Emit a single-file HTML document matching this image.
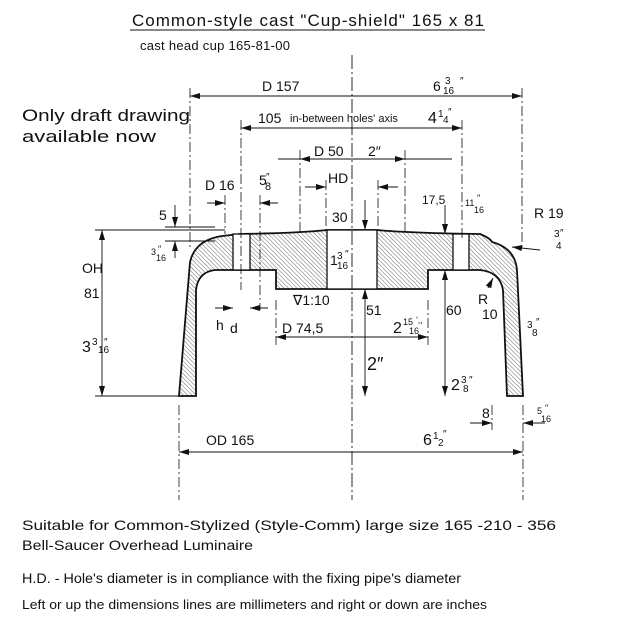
<!DOCTYPE html>
<html><head><meta charset="utf-8"><style>
html,body{margin:0;padding:0;background:#fff}
svg{display:block}
text{font-family:"Liberation Sans",sans-serif;fill:#111}
</style></head><body>
<svg width="630" height="631" viewBox="0 0 630 631" xmlns="http://www.w3.org/2000/svg">
<defs>
<pattern id="h" width="3" height="3" patternUnits="userSpaceOnUse" patternTransform="rotate(-45)">
<line x1="0" y1="0" x2="0" y2="3" stroke="#444" stroke-width="0.8"/>
</pattern>
<marker id="a" viewBox="0 0 10 6" refX="10" refY="3" markerWidth="10" markerHeight="6" orient="auto-start-reverse" markerUnits="userSpaceOnUse"><path d="M0,0 L10,3 L0,6 z" fill="#111"/></marker>
</defs>
<g stroke="#111" fill="none">
<path d="M179,396 L190,262 Q195,240 222,236 L240,234 Q300,233 327,230 L377,230 Q410,233 480,234 Q490,238 492,242 Q515,248 517,270 L523,396 L507,396 L503,290 Q500,272 480,270 L428,270 L428,289 L276,289 L276,270 L215,270 Q198,272 196,290 L196,396 Z" fill="url(#h)" stroke-width="1.8"/>
<rect x="327" y="230" width="50" height="59" fill="#fff" stroke-width="1.3"/>
<rect x="233" y="234" width="17" height="36" fill="#fff" stroke-width="1.3"/>
<rect x="453" y="234" width="16" height="36" fill="#fff" stroke-width="1.3"/>
<line x1="352" y1="55" x2="352" y2="500" stroke-dasharray="14,3,2,3" stroke-width="0.9"/>
<g stroke-width="0.8" stroke-dasharray="10,3,2,3">
<line x1="190" y1="88" x2="190" y2="250"/><line x1="522" y1="88" x2="522" y2="250"/>
<line x1="241" y1="120" x2="241" y2="290"/><line x1="462" y1="120" x2="462" y2="240"/>
<line x1="300" y1="150" x2="300" y2="232"/><line x1="405" y1="150" x2="405" y2="232"/>
<line x1="326" y1="180" x2="326" y2="230"/><line x1="378" y1="180" x2="378" y2="230"/>
<line x1="225" y1="195" x2="225" y2="234"/><line x1="260" y1="195" x2="260" y2="310"/>
<line x1="179" y1="405" x2="179" y2="500"/><line x1="523" y1="405" x2="523" y2="500"/>
<line x1="276" y1="300" x2="276" y2="345"/><line x1="428" y1="300" x2="428" y2="345"/>
<line x1="492" y1="405" x2="492" y2="430"/>
</g>
<g stroke-width="0.9">
<line x1="190" y1="96" x2="522" y2="96" marker-start="url(#a)" marker-end="url(#a)"/>
<line x1="241" y1="128" x2="462" y2="128" marker-start="url(#a)" marker-end="url(#a)"/>
<line x1="278" y1="159" x2="300" y2="159"/><line x1="405" y1="159" x2="452" y2="159"/>
<line x1="300" y1="159" x2="405" y2="159" marker-start="url(#a)" marker-end="url(#a)"/>
<line x1="305" y1="187" x2="326" y2="187" marker-end="url(#a)"/><line x1="398" y1="187" x2="378" y2="187" marker-end="url(#a)"/>
<line x1="207" y1="203" x2="225" y2="203" marker-end="url(#a)"/><line x1="278" y1="203" x2="260" y2="203" marker-end="url(#a)"/>
<line x1="276" y1="337" x2="428" y2="337" marker-start="url(#a)" marker-end="url(#a)"/>
<line x1="215" y1="308" x2="233" y2="308" marker-end="url(#a)"/><line x1="268" y1="308" x2="250" y2="308" marker-end="url(#a)"/>
<line x1="102" y1="230" x2="102" y2="396" marker-start="url(#a)" marker-end="url(#a)"/>
<line x1="95" y1="230" x2="225" y2="230"/>
<line x1="95" y1="396" x2="179" y2="396"/>
<line x1="365" y1="200" x2="365" y2="230" marker-end="url(#a)"/>
<line x1="365" y1="289" x2="365" y2="396" marker-start="url(#a)" marker-end="url(#a)"/>
<line x1="445" y1="270" x2="445" y2="396" marker-start="url(#a)" marker-end="url(#a)"/>
<line x1="445" y1="205" x2="445" y2="234" marker-end="url(#a)"/>
<line x1="175" y1="205" x2="175" y2="227" marker-end="url(#a)"/>
<line x1="175" y1="258" x2="175" y2="241" marker-end="url(#a)"/>
<line x1="165" y1="227" x2="215" y2="227"/><line x1="165" y1="241" x2="215" y2="241"/>
<line x1="179" y1="452" x2="523" y2="452" marker-start="url(#a)" marker-end="url(#a)"/>
<line x1="470" y1="423" x2="492" y2="423" marker-end="url(#a)"/><line x1="545" y1="423" x2="523" y2="423" marker-end="url(#a)"/>
<line x1="540" y1="250" x2="512" y2="247" marker-end="url(#a)"/>
<line x1="488" y1="288" x2="493" y2="278" marker-end="url(#a)"/>
</g>
<line x1="130" y1="30" x2="485" y2="30" stroke-width="1"/>
</g>
<text x="132" y="26" font-size="17" textLength="352" lengthAdjust="spacing">Common-style  cast  "Cup-shield"  165 x 81</text>
<text x="140" y="50" font-size="13" textLength="150" lengthAdjust="spacing">cast head cup  165-81-00</text>
<text x="22" y="121" font-size="17" textLength="168" lengthAdjust="spacingAndGlyphs">Only draft drawing</text>
<text x="22" y="142" font-size="17" textLength="134" lengthAdjust="spacingAndGlyphs">available  now</text>
<g font-size="14">
<text x="262" y="91">D    157</text>
<text x="433" y="91">6</text><text x="445" y="84" font-size="10">3</text><text x="443" y="94" font-size="10">16</text><text x="460" y="84" font-size="10">″</text>
<text x="258" y="123">105</text><text x="290" y="122" font-size="11">in-between  holes' axis</text>
<text x="428" y="123" font-size="16">4</text><text x="438" y="117" font-size="10">1</text><text x="443" y="123" font-size="10">4</text><text x="448" y="115" font-size="10">″</text>
<text x="314" y="156">D 50</text><text x="368" y="156">2″</text>
<text x="328" y="183">HD</text>
<text x="205" y="190">D 16</text>
<text x="259" y="185">5</text><text x="265" y="190" font-size="11">8</text><text x="266" y="180" font-size="10">″</text>
<text x="332" y="222">30</text>
<text x="422" y="204" font-size="12">17,5</text>
<text x="465" y="206" font-size="9">11</text><text x="477" y="201" font-size="9">″</text><text x="474" y="213" font-size="9">16</text>
<text x="534" y="218">R 19</text>
<text x="554" y="237" font-size="10">3</text><text x="556" y="249" font-size="10">4</text><text x="560" y="236" font-size="10">″</text>
<text x="159" y="220">5</text>
<text x="151" y="255" font-size="9">3</text><text x="156" y="261" font-size="9">16</text><text x="158" y="252" font-size="9">″</text>
<text x="82" y="273">OH</text>
<text x="84" y="298">81</text>
<text x="82" y="352" font-size="16">3</text><text x="92" y="345" font-size="10">3</text><text x="98" y="353" font-size="10">16</text><text x="104" y="345" font-size="10">″</text>
<text x="330" y="265">1</text><text x="337" y="259" font-size="10">3</text><text x="337" y="269" font-size="10">16</text><text x="345" y="257" font-size="10">″</text>
<text x="293" y="305">∇1:10</text>
<text x="366" y="315">51</text>
<text x="446" y="315">60</text>
<text x="478" y="304">R</text><text x="482" y="319">10</text>
<text x="527" y="328" font-size="10">3</text><text x="532" y="336" font-size="10">8</text><text x="536" y="325" font-size="10">″</text>
<text x="216" y="330">h</text><text x="230" y="333">d</text>
<text x="282" y="333">D 74,5</text>
<text x="393" y="333" font-size="16">2</text><text x="403" y="325" font-size="9">15</text><text x="409" y="334" font-size="9">16</text><text x="416" y="323" font-size="9">‘‚,</text>
<text x="367" y="370" font-size="18">2″</text>
<text x="451" y="390" font-size="16">2</text><text x="461" y="383" font-size="10">3</text><text x="463" y="392" font-size="10">8</text><text x="469" y="383" font-size="10">″</text>
<text x="482" y="418">8</text>
<text x="537" y="414" font-size="9">5</text><text x="541" y="422" font-size="9">16</text><text x="545" y="411" font-size="9">″</text>
<text x="206" y="445">OD      165</text>
<text x="423" y="445" font-size="16">6</text><text x="433" y="439" font-size="10">1</text><text x="438" y="446" font-size="10">2</text><text x="443" y="437" font-size="10">″</text>
</g>
<g font-size="14">
<text x="22" y="530" textLength="534" lengthAdjust="spacingAndGlyphs">Suitable for Common-Stylized (Style-Comm) large size 165 -210 - 356</text>
<text x="22" y="550" textLength="231" lengthAdjust="spacingAndGlyphs">Bell-Saucer Overhead  Luminaire</text>
<text x="22" y="583" textLength="439" lengthAdjust="spacingAndGlyphs">H.D. - Hole's diameter is in compliance with the fixing pipe's diameter</text>
<text x="22" y="609" font-size="13" textLength="465" lengthAdjust="spacingAndGlyphs">Left or up the dimensions  lines are  millimeters and right or down are  inches</text>
</g>
</svg>
</body></html>
